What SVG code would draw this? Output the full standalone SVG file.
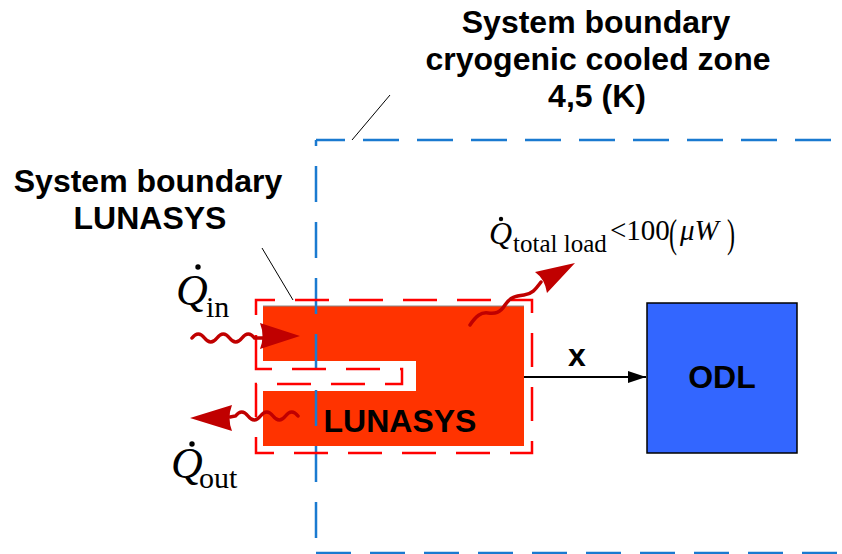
<svg xmlns="http://www.w3.org/2000/svg" width="842" height="554" viewBox="0 0 842 554">
<style>
.lbl{font-family:"Liberation Sans",Arial,sans-serif;font-weight:bold;font-size:32px;fill:#000;text-anchor:middle}
.math{font-family:"Liberation Serif","Times New Roman",serif;fill:#000}
.blue{fill:none;stroke:#1a7ad0;stroke-width:2.5}
.reddash{fill:none;stroke:#ff0000;stroke-width:2.5;stroke-dasharray:34 20}
.wave{fill:none;stroke:#c00000;stroke-width:3.5;stroke-linecap:round}
.head{fill:#c00000}
.lead{stroke:#000;stroke-width:1;fill:none}
</style>
<defs>
<marker id="arr" markerWidth="18" markerHeight="12" refX="18" refY="6" orient="auto" markerUnits="userSpaceOnUse">
<path d="M0,0 L18,6 L0,12 Z" fill="#000"/>
</marker>
</defs>
<rect width="842" height="554" fill="#fff"/>

<g id="label-cryo">
<text class="lbl" x="596" y="33">System boundary</text>
<text class="lbl" x="598" y="70">cryogenic cooled zone</text>
<text class="lbl" x="597" y="107">4,5 (K)</text>
</g>
<g id="label-lunasys-boundary">
<text class="lbl" x="148" y="192">System boundary</text>
<text class="lbl" x="150" y="229">LUNASYS</text>
</g>

<g id="lunasys">
<path d="M263,306 H524 V446 H263 V391 H416 V361 H263 Z" fill="#ff3300"/>
<line x1="263" y1="306" x2="524" y2="306" stroke="#888" stroke-width="1"/>
<text class="lbl" x="400" y="432">LUNASYS</text>
</g>

<g id="cryo-boundary">
<path class="blue" d="M316,140 V554" stroke-dasharray="36 20" stroke-dashoffset="30"/>
<path class="blue" d="M316,140 H842" stroke-dasharray="36 18" stroke-dashoffset="7"/>
<path class="blue" d="M316,553 H842" stroke-dasharray="35 19"/>
</g>

<g id="lunasys-boundary">
<path class="reddash" d="M256,369 V300 H532 V453 H256 V384 H402 V369 Z"/>
</g>

<g id="odl">
<rect x="647" y="303" width="150" height="150" fill="#3366ff" stroke="#000" stroke-width="1.5"/>
<text class="lbl" x="722" y="388">ODL</text>
</g>

<g id="connectors">
<line class="lead" x1="352" y1="140" x2="390" y2="95"/>
<line class="lead" x1="262" y1="248" x2="293" y2="300"/>
<line x1="524" y1="377" x2="646" y2="377" stroke="#000" stroke-width="2" marker-end="url(#arr)"/>
<text class="lbl" x="577" y="366" font-size="30">x</text>
</g>

<g id="q-in">
<path class="wave" d="M192,338 q6.25,-8 12.5,0 t12.5,0 t12.5,0 t12.5,0 t12.5,0 L266,338"/>
<path class="head" d="M260,323 L300,336 L260,349 Q265,336 260,323 Z"/>
<text class="math" x="176" y="305" font-size="44" font-style="italic">Q</text>
<circle cx="198" cy="267" r="2.7" fill="#000"/>
<text class="math" x="206" y="317" font-size="30">in</text>
</g>

<g id="q-out">
<path class="wave" d="M298,416 q-6.25,-8 -12.5,0 t-12.5,0 t-12.5,0 t-12.5,0 t-12.5,0 L230,417"/>
<path class="head" d="M232,405 L190,418 L232,431 Q227,418 232,405 Z"/>
<text class="math" x="171" y="478" font-size="44" font-style="italic">Q</text>
<circle cx="192" cy="444" r="2.7" fill="#000"/>
<text class="math" x="199" y="488" font-size="30">out</text>
</g>

<g id="q-total">
<path class="wave" d="M470,325 C476,316 481,312 488,313 S500,313 505,305 S516,296 524,295 S535,290 541,282"/>
<path class="head" d="M535,272 L575,263 L547,293 Q545,279 535,272 Z"/>
<text class="math" x="489" y="244" font-size="32" font-style="italic">Q</text>
<circle cx="501" cy="219" r="2.2" fill="#000"/>
<text class="math" x="513" y="252" font-size="25">total load</text>
<text class="math" x="610" y="240" font-size="29">&lt;100</text>
<text class="math" x="669" y="247" font-size="40" fill="#555" transform="translate(669,247) scale(0.6,1) translate(-669,-247)">(</text>
<text class="math" x="680" y="240" font-size="29" font-style="italic">μW</text>
<text class="math" x="727" y="247" font-size="40" fill="#555" transform="translate(727,247) scale(0.6,1) translate(-727,-247)">)</text>
</g>
</svg>
